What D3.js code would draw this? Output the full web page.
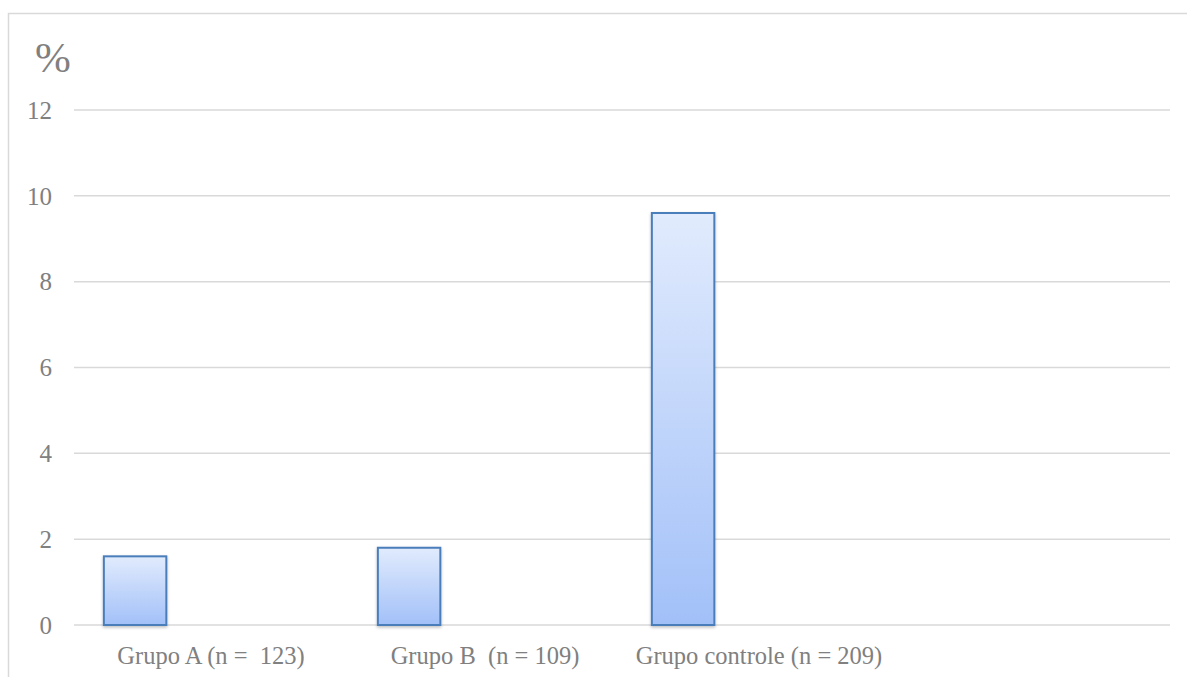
<!DOCTYPE html>
<html><head><meta charset="utf-8">
<script src="https://cdn.jsdelivr.net/npm/d3@7"></script>
<style>body{margin:0;background:#fff}svg{display:block}</style>
</head><body>
<script>
const categories = ["Grupo A (n =  123)", "Grupo B  (n = 109)", "Grupo controle (n = 209)", ""];
const values = [1.6, 1.8, 9.6, null];
const yTicks = [0, 2, 4, 6, 8, 10, 12];
const yLabel = "%";

(function () {
const W = 1187, H = 677;
const svg = d3.select("body").append("svg").attr("width", W).attr("height", H);
const font = "'Liberation Serif', 'Times New Roman', serif";
const grey = "#808080";

const defs = svg.append("defs");
const grad = defs.append("linearGradient").attr("id", "g").attr("x1", 0).attr("y1", 0).attr("x2", 0).attr("y2", 1);
grad.append("stop").attr("offset", "0%").attr("stop-color", "#e1ebfd");
grad.append("stop").attr("offset", "100%").attr("stop-color", "#a2c0f8");
const f = defs.append("filter").attr("id", "sh").attr("x", "-20%").attr("y", "-5%").attr("width", "140%").attr("height", "115%");
f.append("feDropShadow").attr("dx", 0).attr("dy", 1.5).attr("stdDeviation", 1.5).attr("flood-color", "#000").attr("flood-opacity", 0.25);

// outer chart border (extends past right and bottom edges)
svg.append("rect").attr("x", 8.5).attr("y", 13.5).attr("width", 1300).attr("height", 800)
  .attr("fill", "none").attr("stroke", "#d9d9d9").attr("stroke-width", 1.5);

const mLeft = 74, mRight = 1170, mTop = 110, mBottom = 625;
const x = d3.scaleBand().domain(categories.map((d, i) => i)).range([mLeft, mRight]).padding(0);
const y = d3.scaleLinear().domain([0, 12]).range([mBottom, mTop]);

// gridlines
svg.append("g").selectAll("line").data(yTicks).join("line")
  .attr("x1", mLeft).attr("x2", mRight)
  .attr("y1", d => y(d)).attr("y2", d => y(d))
  .attr("stroke", "#d9d9d9").attr("stroke-width", 1.5);

// y tick labels
const yAxis = d3.axisLeft(y).tickValues(yTicks).tickSize(0).tickPadding(0);
const ya = svg.append("g").attr("transform", "translate(52,0)").call(yAxis);
ya.select(".domain").remove();
ya.selectAll("text").attr("font-family", font).attr("font-size", 25).attr("fill", grey).attr("dy", "0.33em");

// bars
const bw = x.bandwidth();
svg.append("g").selectAll("rect").data(values.map((v, i) => ({v, i})).filter(d => d.v != null)).join("rect")
  .attr("x", d => x(d.i) + bw * 0.109)
  .attr("width", bw * 0.228)
  .attr("y", d => y(d.v))
  .attr("height", d => y(0) - y(d.v))
  .attr("fill", "url(#g)").attr("stroke", "#4a7ebb").attr("stroke-width", 2)
  .attr("filter", "url(#sh)");

// x labels
const xAxis = d3.axisBottom(x).tickFormat(i => categories[i]).tickSize(0).tickPadding(0);
const xa = svg.append("g").attr("transform", `translate(0,${mBottom})`).call(xAxis);
xa.select(".domain").remove();
xa.selectAll("text").attr("font-family", font).attr("font-size", 24.5).attr("fill", grey)
  .attr("y", 38.5).attr("dy", 0).style("white-space", "pre");

// % label
svg.append("text").attr("x", 35).attr("y", 72).text(yLabel)
  .attr("font-family", font).attr("font-size", 43).attr("fill", grey);
})();
</script>
</body></html>
